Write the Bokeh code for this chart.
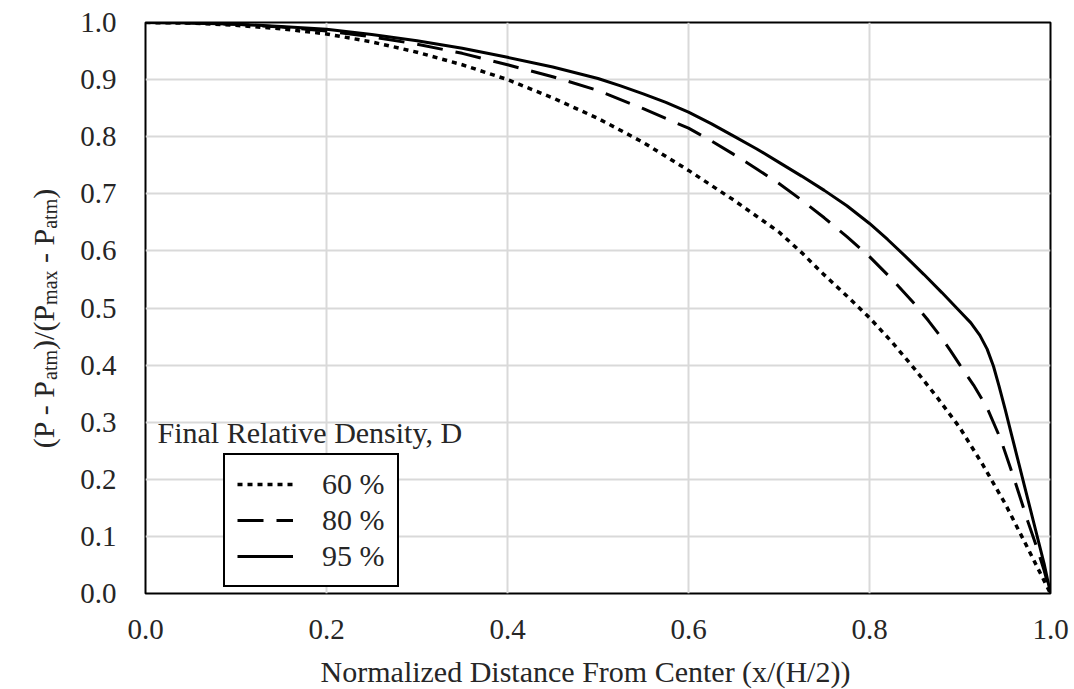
import math
from bokeh.plotting import figure
from bokeh.layouts import row, column
from bokeh.models import Range1d, FixedTicker, Label, Legend, LegendItem, NumeralTickFormatter
from bokeh.core.properties import value
from bokeh.embed import file_html
from bokeh.resources import INLINE

# ---- data ----
x60 = [0, 0.05, 0.1, 0.15, 0.2, 0.25, 0.3, 0.35, 0.4, 0.45, 0.5, 0.55, 0.6, 0.65, 0.7, 0.725,
       0.75, 0.775, 0.8, 0.825, 0.85, 0.875, 0.9, 0.925, 0.95, 0.975, 1.0]
y60 = [1.0, 0.999, 0.995, 0.989, 0.98, 0.966, 0.948, 0.926, 0.9, 0.868, 0.832, 0.79, 0.741, 0.689, 0.633, 0.597,
       0.558, 0.521, 0.483, 0.44, 0.393, 0.343, 0.29, 0.226, 0.157, 0.079, 0.0]

x80 = [0, 0.05, 0.1, 0.15, 0.2, 0.25, 0.3, 0.35, 0.4, 0.45, 0.5, 0.55, 0.6, 0.625, 0.65, 0.675, 0.7,
       0.725, 0.75, 0.775, 0.8, 0.825, 0.85, 0.865, 0.88, 0.89, 0.9, 0.915, 0.93, 0.945, 0.96, 0.975,
       0.985, 0.993, 1.0]
y80 = [1.0, 0.999, 0.997, 0.992, 0.985, 0.975, 0.962, 0.946, 0.926, 0.905, 0.881, 0.849, 0.815, 0.793, 0.769, 0.744, 0.718,
       0.689, 0.658, 0.625, 0.59, 0.55, 0.507, 0.478, 0.447, 0.424, 0.40, 0.365, 0.325, 0.27, 0.2, 0.126,
       0.08, 0.04, 0.0]

x95 = [0, 0.05, 0.1, 0.15, 0.2, 0.25, 0.3, 0.35, 0.4, 0.45, 0.5, 0.525, 0.55, 0.575, 0.6, 0.625, 0.65,
       0.675, 0.7, 0.725, 0.75, 0.775, 0.8, 0.82, 0.84, 0.86, 0.88, 0.9, 0.912, 0.922, 0.93,
       0.937, 0.943, 0.95, 0.957, 0.964, 0.971, 0.978, 0.985, 0.993, 1.0]
y95 = [1.0, 0.999, 0.997, 0.993, 0.988, 0.979, 0.968, 0.955, 0.939, 0.922, 0.902, 0.889, 0.875, 0.86, 0.843, 0.823, 0.801,
       0.779, 0.755, 0.731, 0.706, 0.679, 0.648, 0.62, 0.59, 0.559, 0.527, 0.494, 0.474, 0.452, 0.428,
       0.398, 0.364, 0.322, 0.278, 0.234, 0.19, 0.146, 0.102, 0.052, 0.0]

series_labels = ["60 %", "80 %", "95 %"]
x_ticks = [0.0, 0.2, 0.4, 0.6, 0.8, 1.0]
y_ticks = [0.0, 0.1, 0.2, 0.3, 0.4, 0.5, 0.6, 0.7, 0.8, 0.9, 1.0]
x_title = "Normalized Distance From Center (x/(H/2))"
legend_title = "Final Relative Density, D"
# y title pieces: (text, is_subscript)
y_title_pieces = [("(P - P", False), ("atm", True), (")/(P", False), ("max", True),
                  (" - P", False), ("atm", True), (")", False)]

FONT = "Liberation Serif"
TXT = "#262626"
W, H = 1074, 689
LEFT_W = 75          # strip holding the y title
BOT_H = 40           # strip holding the x title
TOP = 22
FRAME_W, FRAME_H = 905, 571
MAIN_H = H - BOT_H
BOTTOM = MAIN_H - TOP - FRAME_H   # border below the frame in the main figure

# ---------------- main chart ----------------
p = figure(width=W - LEFT_W, height=MAIN_H, output_backend="svg", toolbar_location=None,
           x_range=Range1d(0, 1), y_range=Range1d(0, 1),
           min_border_left=145 - LEFT_W, min_border_right=24, min_border_top=TOP, min_border_bottom=BOTTOM)
p.background_fill_color = "white"
p.border_fill_color = "white"
p.outline_line_color = "black"
p.outline_line_width = 2

p.xaxis.ticker = FixedTicker(ticks=x_ticks)
p.yaxis.ticker = FixedTicker(ticks=y_ticks)
p.xaxis.formatter = NumeralTickFormatter(format="0.0")
p.yaxis.formatter = NumeralTickFormatter(format="0.0")
for ax in (p.xaxis[0], p.yaxis[0]):
    ax.axis_line_color = None
    ax.major_tick_line_color = None
    ax.minor_tick_line_color = None
    ax.major_label_text_font = FONT
    ax.major_label_text_font_size = "29px"
    ax.major_label_text_color = TXT
p.xaxis.major_label_standoff = 20
p.yaxis.major_label_standoff = 23

p.xgrid.ticker = FixedTicker(ticks=x_ticks)
p.ygrid.ticker = FixedTicker(ticks=y_ticks)
p.grid.grid_line_color = "#d9d9d9"
p.grid.grid_line_width = 2

r60 = p.line(x60, y60, line_color="black", line_width=3.5, line_dash="5 5")
r80 = p.line(x80, y80, line_color="black", line_width=3, line_dash="26 13")
r95 = p.line(x95, y95, line_color="black", line_width=3)

legend = Legend(items=[LegendItem(label=series_labels[0], renderers=[r60]),
                       LegendItem(label=series_labels[1], renderers=[r80]),
                       LegendItem(label=series_labels[2], renderers=[r95])],
                location=(78, 6))
legend.border_line_color = "black"
legend.border_line_alpha = 1.0
legend.border_line_width = 2
legend.background_fill_color = "white"
legend.background_fill_alpha = 1.0
legend.label_text_font = FONT
legend.label_text_font_size = "30px"
legend.label_text_color = TXT
legend.glyph_width = 56
legend.glyph_height = 32
legend.label_height = 32
legend.label_standoff = 29
legend.padding = 12
legend.spacing = 2
legend.margin = 0
p.add_layout(legend, "center")

p.add_layout(Label(x=(157 - 145) / FRAME_W, y=(593 - 432) / FRAME_H, text=legend_title,
                   text_font=FONT, text_font_size="30px", text_color=TXT,
                   text_align="left", text_baseline="alphabetic"))

# ---------------- y-axis title strip (rotated text with subscripts) ----------------
# y data of this strip = pixels above the bottom of the main figure
t = figure(width=LEFT_W, height=MAIN_H, output_backend="svg", toolbar_location=None,
           x_range=Range1d(0, LEFT_W), y_range=Range1d(BOTTOM, MAIN_H - TOP),
           x_axis_type=None, y_axis_type=None,
           min_border_left=0, min_border_right=0, min_border_top=TOP, min_border_bottom=BOTTOM)
t.outline_line_color = None
t.grid.visible = False
t.background_fill_color = "white"
t.border_fill_color = "white"

TW = {'(': 333, ')': 333, 'P': 556, ' ': 250, '-': 333, '/': 278, 'a': 444, 't': 278, 'm': 778, 'x': 500}
MAIN, SUB = 30, 20
BASE_MAIN, BASE_SUB = 43, 49

def width(s, size):
    return sum(TW[c] for c in s) * size / 1000.0

total = sum(width(s, SUB if sub else MAIN) for s, sub in y_title_pieces)
center_y = MAIN_H - 318
pos = center_y - total / 2.0
mx, my, mt, sx, sy, st = [], [], [], [], [], []
for s, sub in y_title_pieces:
    size = SUB if sub else MAIN
    lead = len(s) - len(s.lstrip(" "))
    pos += width(" " * lead, size)
    s = s.lstrip(" ")
    if sub:
        sx.append(BASE_SUB); sy.append(pos); st.append(s)
    else:
        mx.append(BASE_MAIN); my.append(pos); mt.append(s)
    pos += width(s, size)

t.text(x=mx, y=my, text=mt, angle=math.pi / 2, text_font=value(FONT), text_font_size=value(f"{MAIN}px"),
       text_color=TXT, text_align="left", text_baseline="alphabetic")
t.text(x=sx, y=sy, text=st, angle=math.pi / 2, text_font=value(FONT), text_font_size=value(f"{SUB}px"),
       text_color=TXT, text_align="left", text_baseline="alphabetic")

# ---------------- x-axis title strip ----------------
b = figure(width=W, height=BOT_H, output_backend="svg", toolbar_location=None,
           x_range=Range1d(0, 1), y_range=Range1d(0, BOT_H),
           x_axis_type=None, y_axis_type=None,
           min_border_left=145, min_border_right=24, min_border_top=0, min_border_bottom=0)
b.outline_line_color = None
b.grid.visible = False
b.background_fill_color = "white"
b.border_fill_color = "white"
b.text(x=[(585 - 145) / FRAME_W], y=[H - 671], text=[x_title], text_font=value(FONT),
       text_font_size=value("30px"), text_color=TXT, text_align="center", text_baseline="middle")

layout = column(row(t, p, spacing=0), b, spacing=0)
open("out.html", "w").write(file_html(layout, INLINE))
